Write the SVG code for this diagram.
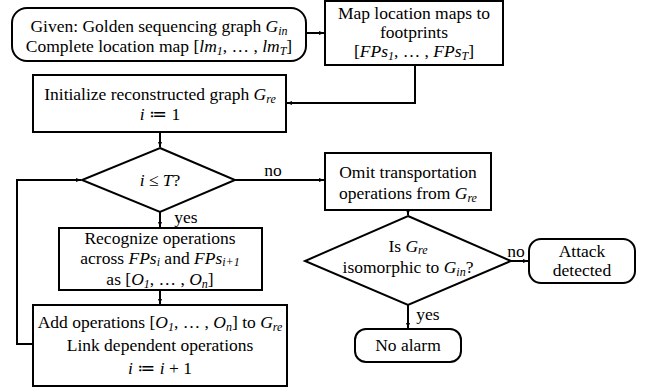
<svg xmlns="http://www.w3.org/2000/svg" width="646" height="390" viewBox="0 0 646 390" font-family="'Liberation Serif', 'Times New Roman', 'DejaVu Serif', serif">
<style>
text{font-family:"Liberation Serif","Times New Roman","DejaVu Serif",serif;font-size:17.5px;fill:#000;text-anchor:middle}
.m{font-style:italic}
.s{font-style:italic;font-size:12px}
.box{fill:#fff;stroke:#000;stroke-width:2}
.ln{fill:none;stroke:#000;stroke-width:2}
</style>
<defs>
<marker id="ah" viewBox="0 0 10 10" refX="10" refY="5" markerWidth="5" markerHeight="5" orient="auto" markerUnits="userSpaceOnUse">
<path d="M0,1 L10,5 L0,9 z" fill="#000"/>
</marker>
</defs>
<g id="connectors">
<path class="ln" d="M306,33 H324" marker-end="url(#ah)"/>
<path class="ln" d="M415,65 V103 H287" marker-end="url(#ah)"/>
<path class="ln" d="M160,132 V147" marker-end="url(#ah)"/>
<path class="ln" d="M235,180 H324" marker-end="url(#ah)"/>
<path class="ln" d="M160,212 V227" marker-end="url(#ah)"/>
<path class="ln" d="M160,290 V304" marker-end="url(#ah)"/>
<path class="ln" d="M33,344 H17 V180 H81" marker-end="url(#ah)"/>
<path class="ln" d="M408,210 V215" marker-end="url(#ah)"/>
<path class="ln" d="M511,261 H528" marker-end="url(#ah)"/>
<path class="ln" d="M408,305 V328" marker-end="url(#ah)"/>
<text x="273" y="176">no</text>
<text x="186" y="223">yes</text>
<text x="516" y="257">no</text>
<text x="428" y="320">yes</text>
</g>
<g id="start">
<rect class="box" x="12" y="8" width="294" height="53" rx="15"/>
<text x="159" y="32">Given: Golden sequencing graph <tspan class="m">G</tspan><tspan class="s" dy="3">in</tspan></text>
<text x="159" y="52">Complete location map [<tspan class="m">lm</tspan><tspan class="s" dy="3">1</tspan><tspan dy="-3">, … , </tspan><tspan class="m">lm</tspan><tspan class="s" dy="3">T</tspan><tspan dy="-3">]</tspan></text>
</g>
<g id="map">
<rect class="box" x="325" y="1" width="178" height="64"/>
<text x="414" y="19">Map location maps to</text>
<text x="414" y="38">footprints</text>
<text x="414" y="57">[<tspan class="m">FPs</tspan><tspan class="s" dy="3">1</tspan><tspan dy="-3">, … , </tspan><tspan class="m">FPs</tspan><tspan class="s" dy="3">T</tspan><tspan dy="-3">]</tspan></text>
</g>
<g id="init">
<rect class="box" x="33" y="75" width="253" height="57"/>
<text x="160" y="100">Initialize reconstructed graph <tspan class="m">G</tspan><tspan class="s" dy="3">re</tspan></text>
<text x="160" y="120"><tspan class="m">i</tspan> ≔ 1</text>
</g>
<g id="cond">
<polygon class="box" points="160,148 235,180 160,212 82,180"/>
<text x="160" y="186"><tspan class="m">i</tspan> ≤ <tspan class="m">T</tspan>?</text>
</g>
<g id="recognize">
<rect class="box" x="59" y="228" width="203" height="62"/>
<text x="160" y="244">Recognize operations</text>
<text x="160" y="264">across <tspan class="m">FPs</tspan><tspan class="s" dy="2">i</tspan><tspan dy="-2"> and </tspan><tspan class="m">FPs</tspan><tspan class="s" dy="2">i+1</tspan></text>
<text x="160" y="285">as [<tspan class="m">O</tspan><tspan class="s" dy="3">1</tspan><tspan dy="-3">, … , </tspan><tspan class="m">O</tspan><tspan class="s" dy="3">n</tspan><tspan dy="-3">]</tspan></text>
</g>
<g id="add">
<rect class="box" x="33" y="305" width="254" height="81"/>
<text x="160" y="328">Add operations [<tspan class="m">O</tspan><tspan class="s" dy="3">1</tspan><tspan dy="-3">, … , </tspan><tspan class="m">O</tspan><tspan class="s" dy="3">n</tspan><tspan dy="-3">] to </tspan><tspan class="m">G</tspan><tspan class="s" dy="3">re</tspan></text>
<text x="160" y="351">Link dependent operations</text>
<text x="160" y="374"><tspan class="m">i</tspan> ≔ <tspan class="m">i</tspan> + 1</text>
</g>
<g id="omit">
<rect class="box" x="325" y="153" width="166" height="57"/>
<text x="408" y="178">Omit transportation</text>
<text x="408" y="199">operations from <tspan class="m">G</tspan><tspan class="s" dy="3">re</tspan></text>
</g>
<g id="iso">
<polygon class="box" points="408,216 511,261 408,305 305,261"/>
<text x="408" y="252">Is <tspan class="m">G</tspan><tspan class="s" dy="2">re</tspan></text>
<text x="408" y="273">isomorphic to <tspan class="m">G</tspan><tspan class="s" dy="3">in</tspan><tspan dy="-3">?</tspan></text>
</g>
<g id="attack">
<rect class="box" x="529" y="239" width="106" height="44" rx="12"/>
<text x="582" y="257">Attack</text>
<text x="582" y="276">detected</text>
</g>
<g id="noalarm">
<rect class="box" x="355" y="329" width="106" height="33" rx="11"/>
<text x="408" y="351">No alarm</text>
</g>
</svg>
